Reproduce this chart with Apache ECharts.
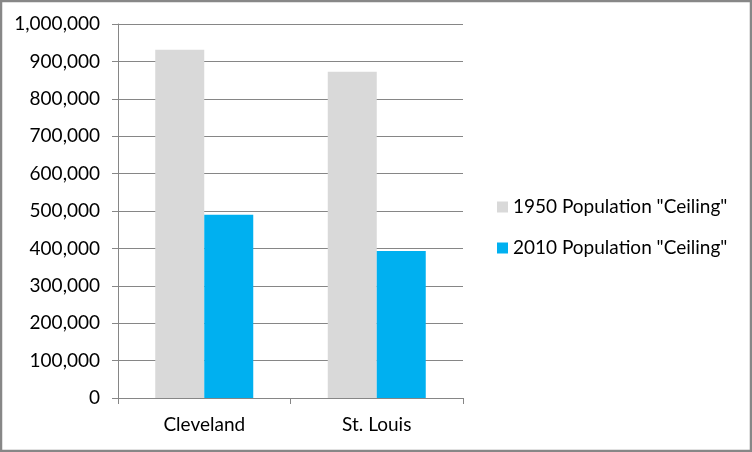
<!DOCTYPE html>
<html><head><meta charset="utf-8">
<script src="https://cdn.jsdelivr.net/npm/echarts@6/dist/echarts.min.js"></script>
<style>html,body{margin:0;padding:0;background:#fff}#c{width:752px;height:452px}</style>
</head><body><div id="c"></div>
<script>
const categories = ['Cleveland', 'St. Louis'];
const seriesNames = ['1950 Population "Ceiling"', '2010 Population "Ceiling"'];
const pop1950 = [931000, 872000];
const pop2010 = [490000, 393000];
const FONT = 'Lato';
const chart = echarts.init(document.getElementById('c'), null, {renderer: 'canvas'});
chart.setOption({
  animation: false,
  backgroundColor: '#fff',
  textStyle: {fontFamily: FONT},
  graphic: [{type: 'rect', shape: {x: 1, y: 1, width: 750, height: 450}, style: {fill: 'none', stroke: '#878787', lineWidth: 2.5}, z: 100}],
  grid: {left: 118, right: 289, top: 24, bottom: 54, containLabel: false},
  legend: {
    orient: 'vertical', left: 492, top: 192,
    itemWidth: 11, itemHeight: 11, itemGap: 21,
    icon: 'rect',
    textStyle: {fontFamily: FONT, fontSize: 19, color: '#000', lineHeight: 20, padding: [0, 0, 0, 0]},
    data: seriesNames
  },
  xAxis: {
    type: 'category', data: categories,
    axisLine: {lineStyle: {color: '#868686', width: 1}},
    axisTick: {show: true, length: 6, alignWithLabel: false, lineStyle: {color: '#868686'}},
    axisLabel: {fontFamily: FONT, fontSize: 19, color: '#000', margin: 17}
  },
  yAxis: {
    type: 'value', min: 0, max: 1000000, interval: 100000,
    axisLine: {show: true, lineStyle: {color: '#868686', width: 1}},
    axisTick: {show: true, length: 6, lineStyle: {color: '#868686'}},
    splitLine: {show: true, lineStyle: {color: '#868686', width: 1}},
    axisLabel: {fontFamily: FONT, fontSize: 19, color: '#000', margin: 18,
      formatter: v => v.toLocaleString('en-US')}
  },
  series: [
    {name: seriesNames[0], type: 'bar', data: pop1950, barWidth: 49, barGap: '0%', itemStyle: {color: '#d9d9d9'}},
    {name: seriesNames[1], type: 'bar', data: pop2010, barWidth: 49, barGap: '0%', itemStyle: {color: '#00b0f0'}}
  ]
});
</script></body></html>
